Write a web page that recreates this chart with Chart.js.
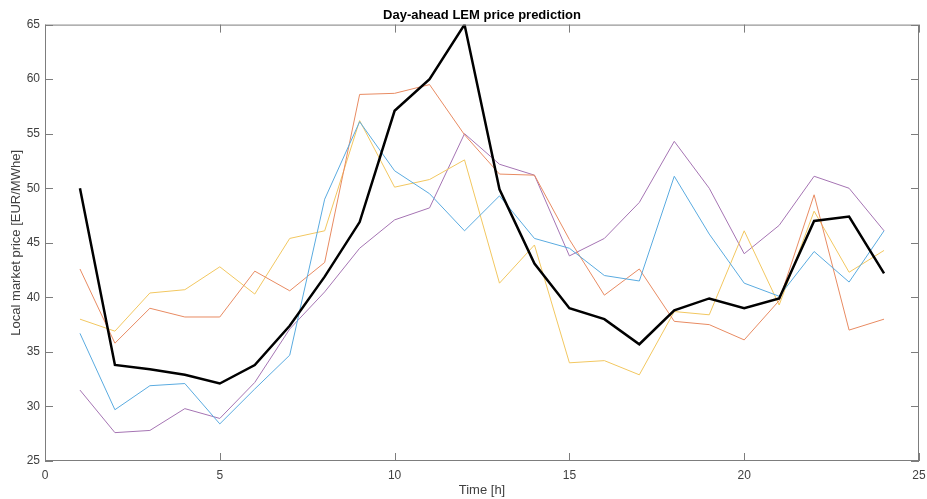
<!DOCTYPE html>
<html>
<head>
<meta charset="utf-8">
<script src="https://cdn.jsdelivr.net/npm/chart.js@4/dist/chart.umd.min.js"></script>
<style>
  html, body { margin: 0; padding: 0; background: #fff; }
  #wrap { width: 927px; height: 499px; }
</style>
</head>
<body>
<div id="wrap"><canvas id="lem" width="927" height="499"></canvas></div>
<script>
// hours of the day-ahead horizon
const hours = [1, 2, 3, 4, 5, 6, 7, 8, 9, 10, 11, 12, 13, 14, 15, 16, 17, 18, 19, 20, 21, 22, 23, 24];

// predicted scenarios (thin lines)
const scenario1 = [36.7, 29.7, 31.9, 32.1, 28.4, 31.6, 34.7, 49.0, 56.1, 51.6, 49.5, 46.1, 49.3, 45.4, 44.5, 42.0, 41.5, 51.1, 45.8, 41.3, 40.1, 44.2, 41.4, 46.1];
const scenario2 = [42.6, 35.8, 39.0, 38.2, 38.2, 42.4, 40.6, 43.2, 58.6, 58.7, 59.5, 54.9, 51.3, 51.2, 45.3, 40.2, 42.6, 37.8, 37.5, 36.1, 39.7, 49.4, 37.0, 38.0];
const scenario3 = [38.0, 36.9, 40.4, 40.7, 42.8, 40.3, 45.4, 46.1, 56.2, 50.1, 50.8, 52.6, 41.3, 44.8, 34.0, 34.2, 32.9, 38.7, 38.4, 46.1, 39.3, 47.9, 42.3, 44.3];
const scenario4 = [31.5, 27.6, 27.8, 29.8, 28.9, 32.2, 37.1, 40.5, 44.5, 47.1, 48.2, 55.0, 52.2, 51.2, 43.8, 45.4, 48.7, 54.3, 50.0, 44.0, 46.6, 51.1, 50.0, 46.1];

// resulting price (thick black line)
const lemPrice = [50.0, 33.8, 33.4, 32.9, 32.1, 33.8, 37.4, 41.9, 46.9, 57.1, 60.0, 65.0, 49.9, 43.1, 39.0, 38.0, 35.7, 38.8, 39.9, 39.0, 39.9, 47.0, 47.4, 42.2];

const xTicks = [0, 5, 10, 15, 20, 25];
const yTicks = [25, 30, 35, 40, 45, 50, 55, 60, 65];

const toPoints = vals => hours.map((h, i) => ({ x: h, y: vals[i] }));

function thin(vals, color, order) {
  return {
    data: toPoints(vals),
    borderColor: color,
    borderWidth: 1,
    pointRadius: 0,
    tension: 0,
    order: order
  };
}

// MATLAB-like box with inward ticks on all four sides
const boxPlugin = {
  id: 'box',
  afterDraw(chart) {
    const { ctx, chartArea: a, scales } = chart;
    const len = 8;
    ctx.save();
    ctx.strokeStyle = '#7d7d7d';
    ctx.lineWidth = 1;
    ctx.strokeRect(a.left + 0.5, a.top + 0.5, a.right - a.left - 1, a.bottom - a.top - 1);
    ctx.beginPath();
    xTicks.forEach(v => {
      const px = Math.round(scales.x.getPixelForValue(v)) + 0.5;
      ctx.moveTo(px, a.bottom); ctx.lineTo(px, a.bottom - len);
      ctx.moveTo(px, a.top); ctx.lineTo(px, a.top + len);
    });
    yTicks.forEach(v => {
      const py = Math.round(scales.y.getPixelForValue(v)) + 0.5;
      ctx.moveTo(a.left, py); ctx.lineTo(a.left + len, py);
      ctx.moveTo(a.right, py); ctx.lineTo(a.right - len, py);
    });
    ctx.stroke();
    ctx.restore();
  }
};

Chart.defaults.font.family = '"Liberation Sans", Arial, sans-serif';
Chart.defaults.color = '#404040';

new Chart(document.getElementById('lem').getContext('2d'), {
  type: 'line',
  data: {
    datasets: [
      {
        data: toPoints(lemPrice),
        borderColor: '#000000',
        borderWidth: 2.5,
        pointRadius: 0,
        tension: 0,
        order: 0
      },
      thin(scenario1, '#5aabe0', 1),
      thin(scenario2, '#e88b62', 2),
      thin(scenario3, '#f2c760', 3),
      thin(scenario4, '#a574b3', 4)
    ]
  },
  options: {
    responsive: false,
    animation: false,
    layout: { padding: { left: 0, right: 8, top: 0, bottom: 0 } },
    plugins: {
      legend: { display: false },
      tooltip: { enabled: false },
      title: {
        display: true,
        text: 'Day-ahead LEM price prediction',
        fullSize: false,
        color: '#000000',
        font: { size: 13, weight: 'bold' },
        padding: { top: 8, bottom: 1 }
      }
    },
    scales: {
      x: {
        type: 'linear',
        min: 0,
        max: 25,
        afterBuildTicks: s => { s.ticks = xTicks.map(v => ({ value: v })); },
        afterFit: s => { s.height = 38; s.paddingLeft = 0; s.paddingRight = 0; },
        grid: { drawOnChartArea: false, drawTicks: false },
        border: { display: false },
        ticks: { padding: 7, font: { size: 12 }, maxRotation: 0 },
        title: {
          display: true,
          text: 'Time [h]',
          font: { size: 13 },
          padding: { top: 0, bottom: 1 }
        }
      },
      y: {
        min: 25,
        max: 65,
        afterBuildTicks: s => { s.ticks = yTicks.map(v => ({ value: v })); },
        afterFit: s => { s.width = 45; s.paddingTop = 0; s.paddingBottom = 0; },
        grid: { drawOnChartArea: false, drawTicks: false },
        border: { display: false },
        ticks: { padding: 5, font: { size: 12 } },
        title: {
          display: true,
          text: 'Local market price [EUR/MWhe]',
          font: { size: 13 },
          padding: { top: 9, bottom: 0 }
        }
      }
    }
  },
  plugins: [boxPlugin]
});
</script>
</body>
</html>
